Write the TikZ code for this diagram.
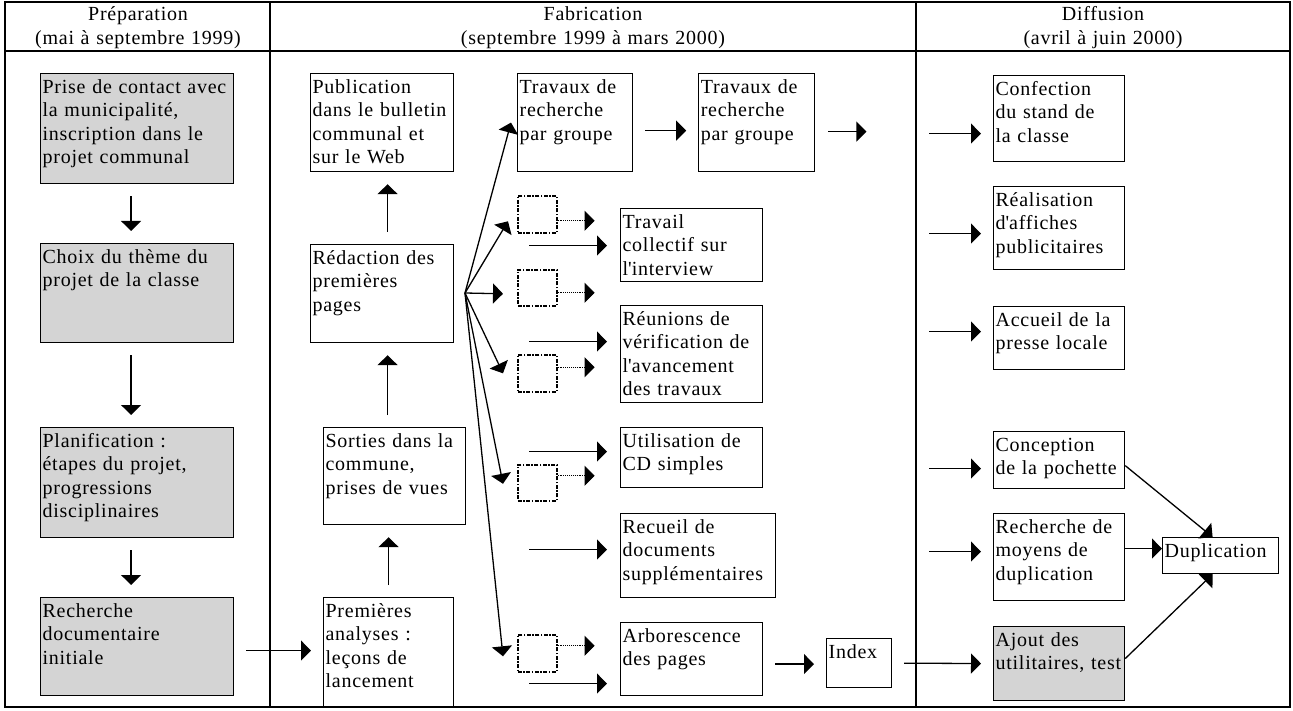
\documentclass[tikz,border=0pt]{standalone}
\usepackage{fontspec}
\setmainfont{Liberation Serif}[LetterSpace=3.75]
\usepackage{tikz}
\usetikzlibrary{arrows.meta, positioning}
\tikzstyle{arrow} = [draw, -{Triangle[length=10pt, width=20pt]}, line width=1.3pt]
\tikzstyle{spaced} = [shorten <=12pt, shorten >=12pt]
\tikzstyle{dotarrow} = [draw, densely dotted, line width=0.9pt, -{Triangle[length=10pt, width=20pt]}]
\tikzstyle{ghost} = [draw, line width=1.6pt, dash pattern=on 4pt off 1.5pt on 1.5pt off 1.5pt, anchor=north west, minimum width=39pt, minimum height=37pt, inner sep=0pt]
\tikzstyle{head} = [anchor=base, align=center]
\tikzstyle{rule} = [line width=2.5pt]
\tikzset{
  box/.style 2 args={draw, line width=1.2pt, anchor=north west, inner xsep=2pt, inner ysep=0pt, align=left, text height=20pt,
    /utils/exec={\pgfmathsetmacro\boxw{#1-4}\pgfmathsetmacro\boxd{#2-20}},
    text width=\boxw pt, text depth=\boxd pt},
  shaded/.style={fill=black!17}
}

\begin{document}
\begin{tikzpicture}[x=1pt, y=-1pt, font=\fontsize{20}{23.3}\selectfont]
  \useasboundingbox (0,0) rectangle (1293,711);

  % Cadre et colonnes
  \draw [rule] (5,2) rectangle (1290,707);
  \draw [rule] (5,51) -- (1290,51);
  \draw [rule] (270,2) -- (270,707);
  \draw [rule] (916,2) -- (916,707);

  % Titres des colonnes
  \node (prepHead) [head, text width=260pt] at (138,21) {Préparation\\(mai à septembre 1999)};
  \node (fabHead) [head, text width=600pt] at (593,21) {Fabrication\\(septembre 1999 à mars 2000)};
  \node (diffHead) [head, text width=360pt] at (1103,21) {Diffusion\\(avril à juin 2000)};

  % Préparation
  \node (prise) [box={193}{110}, shaded] at (40,73) {Prise de contact avec\\la municipalité,\\inscription dans le\\projet communal};
  \node (choix) [box={193}{99}, shaded] at (40,243) {Choix du thème du\\projet de la classe};
  \node (plan) [box={193}{110}, shaded] at (40,427) {Planification :\\étapes du projet,\\progressions\\disciplinaires};
  \node (rech) [box={193}{98}, shaded] at (40,597) {Recherche\\documentaire\\initiale};

  % Fabrication
  \node (pub) [box={143}{98}] at (310,73) {Publication\\dans le bulletin\\communal et\\sur le Web};
  \node (redac) [box={143}{98}] at (310,244) {Rédaction des\\premières\\pages};
  \node (sorties) [box={142}{97}] at (323,427) {Sorties dans la\\commune,\\prises de vues};
  \node (prem) [box={130}{110}] at (323,597) {Premières\\analyses :\\leçons de\\lancement};
  \node (trava) [box={115}{98}] at (517,73) {Travaux de\\recherche\\par groupe};
  \node (travb) [box={116}{98}, right=65pt of trava] {Travaux de\\recherche\\par groupe};
  \node (travail) [box={142}{73}] at (620,208) {Travail\\collectif sur\\l\textquotesingle interview};
  \node (reunion) [box={142}{97}] at (620,305) {Réunions de\\vérification de\\l\textquotesingle avancement\\des travaux};
  \node (util) [box={142}{60}] at (620,427) {Utilisation de\\CD simples};
  \node (recueil) [box={155}{84}] at (620,513) {Recueil de\\documents\\supplémentaires};
  \node (arbo) [box={142}{73}] at (620,622) {Arborescence\\des pages};
  \node (index) [box={65}{49}] at (826,638) {Index};

  % Cases vides
  \node (dbA) [ghost] at (517,195) {};
  \node (dbB) [ghost, minimum height=36pt] at (517,269) {};
  \node (dbC) [ghost] at (517,354) {};
  \node (dbD) [ghost, minimum height=36pt] at (517,464) {};
  \node (dbE) [ghost] at (517,634) {};

  % Diffusion
  \node (conf) [box={131}{86}] at (993,75) {Confection\\du stand de\\la classe};
  \node (real) [box={131}{83}] at (993,186) {Réalisation\\d\textquotesingle affiches\\publicitaires};
  \node (accueil) [box={131}{63}] at (993,306) {Accueil de la\\presse locale};
  \node (concep) [box={131}{57}] at (993,431) {Conception\\de la pochette};
  \node (moyens) [box={131}{87}] at (993,513) {Recherche de\\moyens de\\duplication};
  \node (ajout) [box={131}{74}, shaded] at (993,626) {Ajout des\\\mbox{utilitaires, test}};
  \node (dupl) [box={116}{36}] at (1162,537) {Duplication};

  % Flèches de la préparation
  \draw [arrow, spaced] ([shift={(-6,0)}]prise.south) -- ([shift={(-6,0)}]choix.north);
  \draw [arrow, spaced] ([shift={(-6,0)}]choix.south) -- ([shift={(-6,0)}]plan.north);
  \draw [arrow, spaced] ([shift={(-6,0)}]plan.south) -- ([shift={(-6,0)}]rech.north);
  \draw [arrow, spaced] ([shift={(0,4)}]rech.east) -- ([shift={(0,-2)}]prem.west);

  % Flèches montantes
  \draw [arrow, spaced] (prem.north) -- ([shift={(-6,0)}]sorties.south);
  \draw [arrow, spaced] ([shift={(-7,0)}]sorties.north) -- ([shift={(5.5,0)}]redac.south);
  \draw [arrow, spaced] ([shift={(5.5,0)}]redac.north) -- ([shift={(5.5,0)}]pub.south);

  % Éventail depuis la rédaction
  \coordinate (fan) at (465,293);
  \draw [arrow] (fan) -- ([shift={(-6,0)}]trava.west);
  \draw [arrow] (fan) -- ([shift={(-9,7)}]dbA.west);
  \draw [arrow] (fan) -- ([shift={(-14,6)}]dbB.west);
  \draw [arrow] (fan) -- ([shift={(-14,0)}]dbC.west);
  \draw [arrow] (fan) -- ([shift={(-14,1)}]dbD.west);
  \draw [arrow] (fan) -- ([shift={(-14,3)}]dbE.west);

  % Flèches pointillées
  \draw [dotarrow] ([shift={(0,6.5)}]dbA.east) -- ++(37,0);
  \draw [dotarrow] ([shift={(0,5)}]dbB.east) -- ++(37,0);
  \draw [dotarrow] ([shift={(0,-6)}]dbC.east) -- ++(37,0);
  \draw [dotarrow] ([shift={(0,-7)}]dbD.east) -- ++(37,0);
  \draw [dotarrow] ([shift={(0,-7.5)}]dbE.east) -- ++(37,0);

  % Flèches vers les travaux
  \draw [arrow] ([shift={(-91,0.5)}]travail.west) -- ([shift={(-13,0.5)}]travail.west);
  \draw [arrow] ([shift={(-91,-12.5)}]reunion.west) -- ([shift={(-13,-12.5)}]reunion.west);
  \draw [arrow] ([shift={(-91,-6)}]util.west) -- ([shift={(-13,-6)}]util.west);
  \draw [arrow] ([shift={(-91,-6)}]recueil.west) -- ([shift={(-13,-6)}]recueil.west);
  \draw [arrow] ([shift={(-91,24.5)}]arbo.west) -- ([shift={(-13,24.5)}]arbo.west);
  \draw [arrow, spaced] ([shift={(0,8)}]trava.east) -- ([shift={(0,8)}]travb.west);
  \draw [arrow] ([shift={(13,9)}]travb.east) -- ++(38,0);
  \draw [arrow, spaced] ([shift={(0,5)}]arbo.east) -- ([shift={(0,1)}]index.west);
  \draw [arrow, spaced] (index.east) -- (ajout.west);

  % Flèches de la diffusion
  \draw [arrow] ([shift={(-64,15)}]conf.west) -- ([shift={(-12,15)}]conf.west);
  \draw [arrow] ([shift={(-64,5.5)}]real.west) -- ([shift={(-12,5.5)}]real.west);
  \draw [arrow] ([shift={(-64,-6.5)}]accueil.west) -- ([shift={(-12,-6.5)}]accueil.west);
  \draw [arrow] ([shift={(-64,8.5)}]concep.west) -- ([shift={(-12,8.5)}]concep.west);
  \draw [arrow] ([shift={(-64,-5.5)}]moyens.west) -- ([shift={(-12,-5.5)}]moyens.west);

  % Vers la duplication
  \draw [arrow] ([shift={(0,5.5)}]concep.east) -- ([shift={(-8,0)}]dupl.north);
  \draw [arrow] ([shift={(0,-8.5)}]moyens.east) -- ([shift={(0,-7)}]dupl.west);
  \draw [arrow] ([shift={(0,-5)}]ajout.east) -- ([shift={(-8,0)}]dupl.south);

\end{tikzpicture}
\end{document}
